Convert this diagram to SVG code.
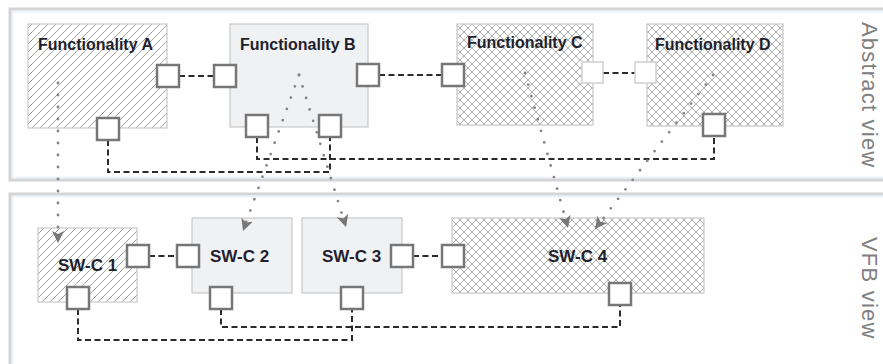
<svg xmlns="http://www.w3.org/2000/svg" width="883" height="364" viewBox="0 0 883 364">
<style>
.frame{fill:none;stroke:#d4d4d4;stroke-width:3}
.frame-in{fill:none;stroke:#e9f0f8;stroke-width:1.5}
.box{stroke:#c9c9c9;stroke-width:1.2}
.hatch{fill:url(#hatch)}
.cross{fill:url(#cross)}
.plain{fill:#f0f1f3}
.port{fill:#fff;stroke:#777;stroke-width:2.5}
.port-light{fill:#fff;stroke:#cfcfcf;stroke-width:1.5}
.dash{fill:none;stroke:#2b2b2b;stroke-width:2;stroke-dasharray:6 3.5}
.dot{fill:none;stroke:#858585;stroke-width:2.8;stroke-dasharray:0 12;stroke-linecap:round;marker-end:url(#arr)}
.lbl{font-family:"Liberation Sans",Arial,sans-serif;font-weight:bold;fill:#1f1f2e}
.side{font-family:"Liberation Sans",Arial,sans-serif;font-size:22px;letter-spacing:1.2px;fill:#808080}
</style>
<defs>
<pattern id="hatch" patternUnits="userSpaceOnUse" width="8" height="8">
<rect width="8" height="8" fill="#fff"/>
<path d="M0,8 L8,0 M-2,2 L2,-2 M6,10 L10,6" stroke="#a0a0a0" stroke-width="1"/>
</pattern>
<pattern id="cross" patternUnits="userSpaceOnUse" width="8" height="8">
<rect width="8" height="8" fill="#fff"/>
<path d="M0,8 L8,0 M-2,2 L2,-2 M6,10 L10,6 M0,0 L8,8 M-2,6 L2,10 M6,-2 L10,2" stroke="#a4a4a4" stroke-width="0.9"/>
</pattern>
<marker id="arr" markerUnits="userSpaceOnUse" markerWidth="14" markerHeight="12" refX="12" refY="6" orient="auto">
<path d="M0,0 L12,6 L0,12 L3,6 Z" fill="#777"/>
</marker>
</defs>
<rect width="883" height="364" fill="#fff"/>
<g id="abstract-view">
<rect class="frame" x="10" y="9" width="890" height="171"/>
<rect class="frame-in" x="12.5" y="11.5" width="885" height="166"/>
<text class="side" transform="translate(862,22) rotate(90)">Abstract view</text>
</g>
<g id="vfb-view">
<rect class="frame" x="10" y="194" width="890" height="190"/>
<rect class="frame-in" x="12.5" y="196.5" width="885" height="185"/>
<text class="side" transform="translate(862,237) rotate(90)">VFB view</text>
</g>
<g id="func-a">
<rect class="box hatch" x="28" y="24" width="139" height="104"/>
<text class="lbl" x="38" y="50" font-size="16">Functionality A</text>
</g>
<g id="func-b">
<rect class="box plain" x="230" y="24" width="138" height="103"/>
<text class="lbl" x="240" y="50" font-size="16">Functionality B</text>
</g>
<g id="func-c">
<rect class="box cross" x="457" y="24" width="136" height="101"/>
<text class="lbl" x="467" y="48" font-size="16">Functionality C</text>
</g>
<g id="func-d">
<rect class="box cross" x="647" y="24" width="136" height="102"/>
<text class="lbl" x="655" y="50" font-size="16">Functionality D</text>
</g>
<g id="swc-1">
<rect class="box hatch" x="38" y="228" width="99" height="74"/>
<text class="lbl" x="58" y="271" font-size="17">SW-C 1</text>
</g>
<g id="swc-2">
<rect class="box plain" x="192" y="218" width="100" height="75"/>
<text class="lbl" x="210" y="262" font-size="17">SW-C 2</text>
</g>
<g id="swc-3">
<rect class="box plain" x="302" y="218" width="100" height="75"/>
<text class="lbl" x="322" y="262" font-size="17">SW-C 3</text>
</g>
<g id="swc-4">
<rect class="box cross" x="452" y="218" width="252" height="75"/>
<text class="lbl" x="548" y="262" font-size="17">SW-C 4</text>
</g>
<g id="connectors">
<path class="dash" d="M179,76 H214"/>
<path class="dash" d="M379,75 H442"/>
<path class="dash" d="M603,73 H635"/>
<path class="dash" d="M108,140 V172 H330 V137"/>
<path class="dash" d="M257,137 V159 H714 V136"/>
<path class="dash" d="M149,256 H177"/>
<path class="dash" d="M413,256 H442"/>
<path class="dash" d="M78,309 V340 H352 V309"/>
<path class="dash" d="M221,309 V327 H620 V305"/>
<path class="dot" d="M58,83 V243"/>
<path class="dot" d="M299,75 L243,231"/>
<path class="dot" d="M299,75 L346,227"/>
<path class="dot" d="M525,73 L568,228"/>
<path class="dot" d="M713,75 L595,229"/>
</g>
<g id="ports">
<rect class="port" x="157" y="65" width="22" height="22"/>
<rect class="port" x="214" y="65" width="22" height="22"/>
<rect class="port" x="97" y="118" width="22" height="22"/>
<rect class="port" x="246" y="115" width="22" height="22"/>
<rect class="port" x="319" y="115" width="22" height="22"/>
<rect class="port" x="357" y="64" width="22" height="22"/>
<rect class="port" x="442" y="64" width="22" height="22"/>
<rect class="port-light" x="582" y="62" width="21" height="21"/>
<rect class="port-light" x="635" y="62" width="21" height="21"/>
<rect class="port" x="703" y="114" width="22" height="22"/>
<rect class="port" x="127" y="245" width="22" height="22"/>
<rect class="port" x="177" y="245" width="22" height="22"/>
<rect class="port" x="67" y="287" width="22" height="22"/>
<rect class="port" x="210" y="287" width="22" height="22"/>
<rect class="port" x="391" y="245" width="22" height="22"/>
<rect class="port" x="442" y="245" width="22" height="22"/>
<rect class="port" x="341" y="287" width="22" height="22"/>
<rect class="port" x="609" y="283" width="22" height="22"/>
</g>
</svg>
